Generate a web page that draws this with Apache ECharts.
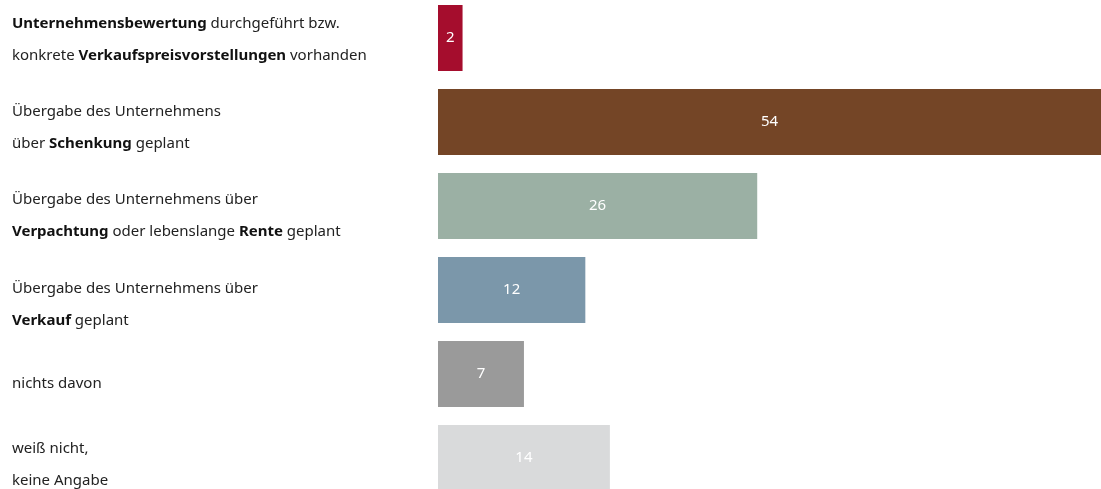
<!DOCTYPE html>
<html>
<head>
<meta charset="utf-8">
<script src="https://cdn.jsdelivr.net/npm/echarts@6/dist/echarts.min.js"></script>
<style>
html,body{margin:0;padding:0;background:#fff;}
#chart{width:1101px;height:489px;}
</style>
</head>
<body>
<div id="chart"></div>
<script>
const categories = [
  '{b|Unternehmensbewertung} durchgeführt bzw.\nkonkrete {b|Verkaufspreisvorstellungen} vorhanden',
  'Übergabe des Unternehmens\nüber {b|Schenkung} geplant',
  'Übergabe des Unternehmens über\n{b|Verpachtung} oder lebenslange {b|Rente} geplant',
  'Übergabe des Unternehmens über\n{b|Verkauf} geplant',
  'nichts davon',
  'weiß nicht,\nkeine Angabe'
];
const values = [2, 54, 26, 12, 7, 14];
const barColors = ['#a50d2d', '#744526', '#9bb0a4', '#7b97aa', '#9a9a9a', '#d9dadb'];

// layout: vertical nudge (top padding, px) per label to match the reference placement
const labelPadTop = [4, 12, 20, 30, 20, 14];

const FONT = '"Noto Sans", sans-serif';
const chart = echarts.init(document.getElementById('chart'));
chart.setOption({
  animation: false,
  grid: { left: 438, right: 0, top: -4, height: 504, containLabel: false, outerBoundsMode: 'none' },
  xAxis: {
    type: 'value', min: 0, max: 54, show: false
  },
  yAxis: {
    type: 'category',
    data: categories.map((c, i) => ({
      value: c,
      textStyle: { align: 'left', padding: [labelPadTop[i], 0, 0, 0] }
    })),
    inverse: true,
    axisLine: { show: false }, axisTick: { show: false },
    axisLabel: {
      align: 'left', margin: 426, fontSize: 15, lineHeight: 32,
      color: '#222', fontFamily: FONT,
      rich: {
        b: { fontWeight: 'bold', fontSize: 15, lineHeight: 32, color: '#111', fontFamily: FONT }
      }
    }
  },
  series: [{
    type: 'bar',
    data: values.map((v, i) => ({ value: v, itemStyle: { color: barColors[i] } })),
    barWidth: 66,
    label: {
      show: true, position: 'inside', color: '#fff', fontSize: 15, fontFamily: FONT
    }
  }]
});
</script>
</body>
</html>
